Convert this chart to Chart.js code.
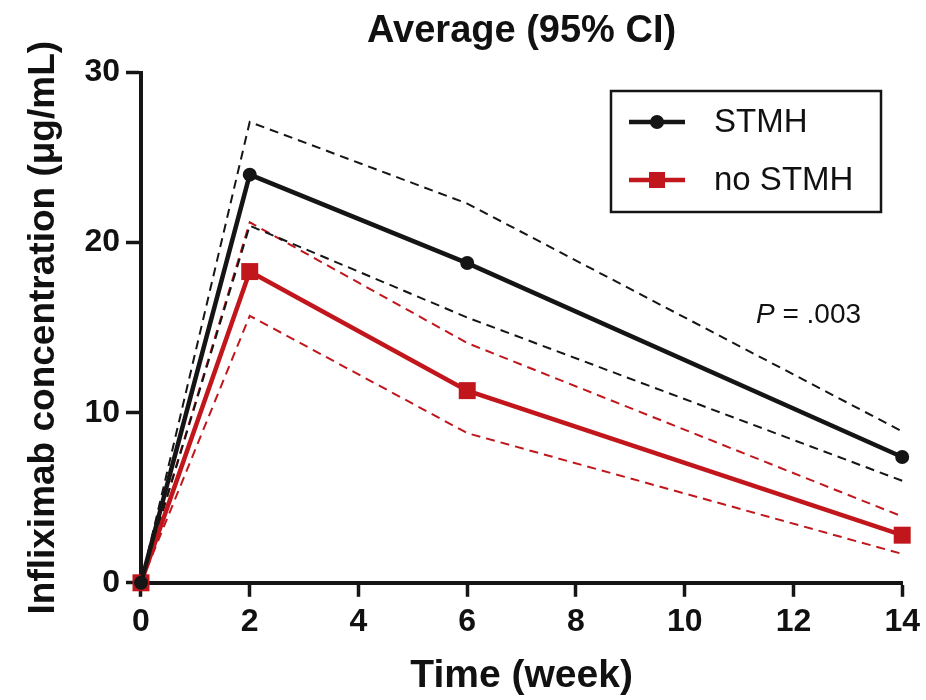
<!DOCTYPE html>
<html><head><meta charset="utf-8">
<script src="https://cdn.jsdelivr.net/npm/chart.js@4.4.1/dist/chart.umd.min.js"></script>
<style>html,body{margin:0;padding:0;background:#fff}#wrap{width:926px;height:700px;position:relative}</style>
</head><body><div id="wrap"><canvas id="c" width="926" height="700"></canvas></div>
<script>
// Data
const weeks = [0, 2, 6, 14];
const stmhMean = [0, 24.0, 18.8, 7.4];
const stmhUpper = [0, 27.1, 22.3, 8.9];
const stmhLower = [0, 21.0, 15.6, 6.0];
const noStmhMean = [0, 18.3, 11.3, 2.8];
const noStmhUpper = [0, 21.2, 14.1, 3.9];
const noStmhLower = [0, 15.7, 8.8, 1.7];
const xTicks = [0, 2, 4, 6, 8, 10, 12, 14];
const yTicks = [0, 10, 20, 30];
const seriesNames = ['STMH', 'no STMH'];
const titleText = 'Average (95% CI)';
const xTitle = 'Time (week)';
const yTitle = 'Infliximab concentration (\u03bcg/mL)';
const pLabel = 'P';
const pValue = ' = .003';

const BLACK = '#151515';
const RED = '#c0161c';
const SANS = '"Liberation Sans", Arial, sans-serif';

const pts = ys => weeks.map((w, i) => ({x: w, y: ys[i]}));

function meanSet(label, ys, color, style, r) {
  return {label, data: pts(ys), borderColor: color, backgroundColor: color,
    borderWidth: 4.5, pointStyle: style, pointRadius: r, pointHoverRadius: r,
    pointBorderWidth: 0, tension: 0, clip: false};
}
function ciSet(label, ys, color) {
  return {label, data: pts(ys), borderColor: color, backgroundColor: color,
    borderWidth: 2, borderDash: [9, 6], pointRadius: 0, tension: 0, clip: false};
}

const overlay = {
  id: 'overlay',
  afterDraw(chart) {
    const ctx = chart.ctx;
    ctx.save();
    // legend box
    ctx.strokeStyle = BLACK; ctx.lineWidth = 2.5;
    ctx.strokeRect(611, 91, 270, 121);
    const entries = [
      {y: 122, color: BLACK, style: 'circle', name: seriesNames[0]},
      {y: 180, color: RED, style: 'rect', name: seriesNames[1]}
    ];
    entries.forEach(e => {
      ctx.strokeStyle = e.color; ctx.fillStyle = e.color; ctx.lineWidth = 4.5;
      ctx.beginPath(); ctx.moveTo(629, e.y); ctx.lineTo(685, e.y); ctx.stroke();
      if (e.style === 'circle') { ctx.beginPath(); ctx.arc(657, e.y, 7, 0, Math.PI * 2); ctx.fill(); }
      else ctx.fillRect(649, e.y - 8, 16, 16);
      ctx.fillStyle = '#111'; ctx.font = '33px ' + SANS; ctx.textBaseline = 'middle'; ctx.textAlign = 'left';
      ctx.fillText(e.name, 714, e.y + 1);
    });
    // P value
    ctx.fillStyle = '#111'; ctx.textBaseline = 'alphabetic';
    ctx.font = 'italic 28px ' + SANS;
    ctx.fillText(pLabel, 756, 323);
    const w = ctx.measureText(pLabel).width;
    ctx.font = '28px ' + SANS;
    ctx.fillText(pValue, 756 + w, 323);
    ctx.restore();
  }
};

new Chart(document.getElementById('c'), {
  type: 'line',
  data: {datasets: [
    meanSet(seriesNames[0], stmhMean, BLACK, 'circle', 7),
    meanSet(seriesNames[1], noStmhMean, RED, 'rect', 12),
    ciSet('STMH upper 95% CI', stmhUpper, BLACK),
    ciSet('STMH lower 95% CI', stmhLower, BLACK),
    ciSet('no STMH upper 95% CI', noStmhUpper, RED),
    ciSet('no STMH lower 95% CI', noStmhLower, RED)
  ]},
  options: {
    responsive: false, animation: false,
    layout: {padding: {left: 22, right: 16, top: 8, bottom: 0}},
    plugins: {
      legend: {display: false}, tooltip: {enabled: false},
      title: {display: true, text: titleText, fullSize: false, color: '#111',
        font: {family: SANS, size: 38, weight: 'bold'}, padding: {top: 1, bottom: 18}}
    },
    scales: {
      x: {type: 'linear', min: 0, max: 14,
        afterBuildTicks: s => { s.ticks = xTicks.map(v => ({value: v})); },
        border: {color: BLACK, width: 4},
        grid: {drawOnChartArea: false, drawTicks: true, tickLength: 14, tickWidth: 3.5, tickColor: BLACK},
        ticks: {color: '#111', padding: 6, font: {family: SANS, size: 32, weight: 'bold'}, maxRotation: 0},
        title: {display: true, text: xTitle, color: '#111', padding: {top: 6, bottom: 0},
          font: {family: SANS, size: 39, weight: 'bold'}}
      },
      y: {type: 'linear', min: 0, max: 30,
        afterBuildTicks: s => { s.ticks = yTicks.map(v => ({value: v})); },
        border: {color: BLACK, width: 4},
        grid: {drawOnChartArea: false, drawTicks: true, tickLength: 15, tickWidth: 3.5, tickColor: BLACK},
        ticks: {color: '#111', padding: 6, font: {family: SANS, size: 32, weight: 'bold'}},
        title: {display: true, text: yTitle, color: '#111', padding: {top: 0, bottom: 12},
          font: {family: SANS, size: 37, weight: 'bold'}}
      }
    }
  },
  plugins: [overlay]
});
</script></body></html>
